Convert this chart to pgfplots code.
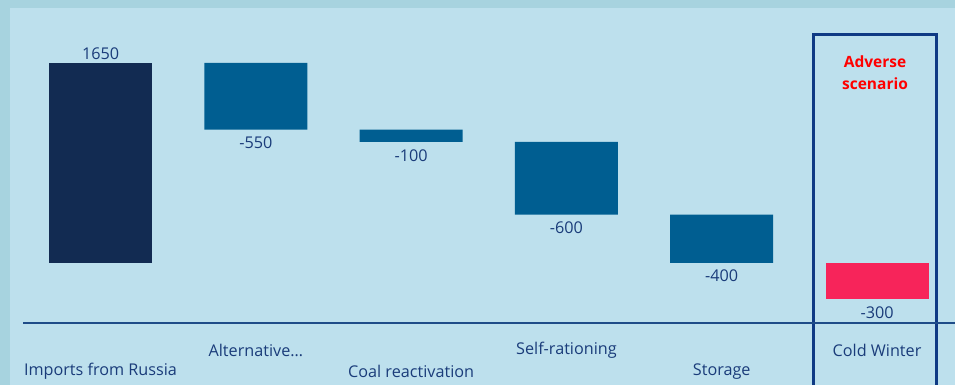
\documentclass[border=0pt]{standalone}
\usepackage{pgfplots}
\pgfplotsset{compat=1.18}
\usepackage{pgfplotstable}
\usepackage{fontspec}
\setmainfont{Open Sans}
\definecolor{outerbg}{HTML}{A7D3DF}
\definecolor{innerbg}{HTML}{BDE0ED}
\definecolor{cnavy}{HTML}{122B52}
\definecolor{midblue}{HTML}{005E91}
\definecolor{redbar}{HTML}{F7245A}
\definecolor{txtc}{HTML}{1A3C7A}
\definecolor{boxc}{HTML}{0F3A84}
\definecolor{axc}{HTML}{1E4C88}
\pgfplotstableread{
x base navy blue red
0 0 1650 0 0
1 1100 0 550 0
2 1000 0 100 0
3 400 0 600 0
4 0 0 400 0
5 0 0 0 -300
}\wf
\begin{document}
\begin{tikzpicture}
\fill[outerbg] (0,0) rectangle (955pt,385pt);
\fill[innerbg] (10pt,0) rectangle (955pt,377pt);
\begin{axis}[
  at={(10pt,0pt)}, anchor=south west,
  scale only axis, width=945pt, height=377pt,
  xmin=-0.583, xmax=5.502, ymin=-1006.5, ymax=2103.75,
  ybar stacked, bar width=103pt,
  axis line style={draw=none}, tick style={draw=none},
  ytick=\empty,
  xtick={0,2,4}, xticklabels={Imports from Russia, Coal reactivation, Storage},
  extra x ticks={1,3,5}, extra x tick labels={Alternative…, Self-rationing, Cold Winter},
  xticklabel style={anchor=center, yshift=13.5pt, font=\fontsize{16.2}{18}\selectfont, text=txtc},
  extra x tick style={tick label style={yshift=21.5pt}},
  clip=false,
]
\addplot[draw=none, fill=none] table[x=x, y=base] {\wf};
\addplot[draw=none, fill=cnavy] table[x=x, y=navy] {\wf};
\addplot[draw=none, fill=midblue] table[x=x, y=blue] {\wf};
\addplot[draw=none, fill=redbar] table[x=x, y=red] {\wf};
\draw[axc, line width=1.5pt] (axis cs:-0.499,-495) -- (axis cs:5.502,-495);
\draw[boxc, line width=3pt] (axis cs:4.588,-1030) -- (axis cs:4.588,1881) -- (axis cs:5.386,1881) -- (axis cs:5.386,-1030);
\node[text=txtc, font=\fontsize{16.2}{18}\selectfont] at (axis cs:0,1725) {1650};
\node[text=txtc, font=\fontsize{16.2}{18}\selectfont] at (axis cs:1,990) {-550};
\node[text=txtc, font=\fontsize{16.2}{18}\selectfont] at (axis cs:2,883) {-100};
\node[text=txtc, font=\fontsize{16.2}{18}\selectfont] at (axis cs:3,289) {-600};
\node[text=txtc, font=\fontsize{16.2}{18}\selectfont] at (axis cs:4,-107) {-400};
\node[text=txtc, font=\fontsize{16.2}{18}\selectfont] at (axis cs:5,-412) {-300};
\node[text=red, font=\bfseries\fontsize{15.5}{22}\selectfont, align=center] at (axis cs:4.987,1567) {Adverse\\scenario};
\end{axis}
\pgfresetboundingbox
\path (0,0) rectangle (955pt,385pt);
\end{tikzpicture}
\end{document}
